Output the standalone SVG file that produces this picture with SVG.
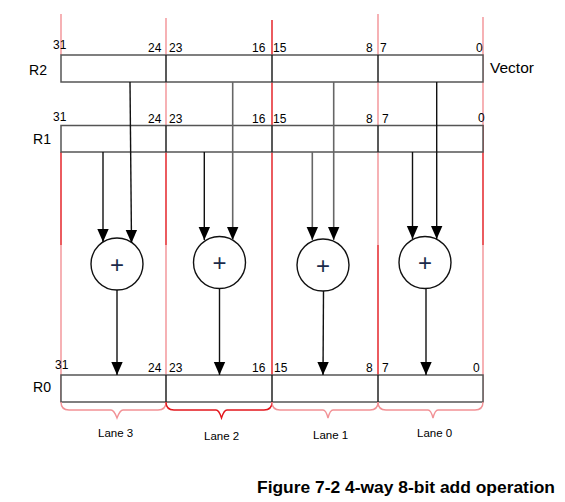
<svg xmlns="http://www.w3.org/2000/svg" width="565" height="502" viewBox="0 0 565 502">
<style>
.num{font-family:"Liberation Sans",Arial,sans-serif;font-size:12px;fill:#000}
.reg{font-family:"Liberation Sans",Arial,sans-serif;font-size:15.5px;fill:#000}
.lane{font-family:"Liberation Sans",Arial,sans-serif;font-size:11.5px;fill:#000}
.cap{font-family:"Liberation Sans",Arial,sans-serif;font-size:17px;font-weight:bold;fill:#000}
.plus{font-family:"Liberation Sans",Arial,sans-serif;font-size:24px;fill:#1a2a4a;text-anchor:middle}
.box{fill:#fff;stroke:#555;stroke-width:1.5}
.div{stroke:#222;stroke-width:1.5}
.red{stroke:#e3161c;stroke-width:1.4;fill:none}
.pink{stroke:#f29195;stroke-width:1.4;fill:none}
.add{fill:#fff;stroke:#111;stroke-width:1.4}
.wire{stroke:#111;stroke-width:1.4;fill:none}
.gwire{stroke:#666;stroke-width:1.6;fill:none}
</style>
<defs>
<marker id="tip" markerUnits="userSpaceOnUse" markerWidth="14" markerHeight="14" viewBox="0 0 14 14" refX="13" refY="7" orient="auto">
<path d="M0,1.3 L13,7 L0,12.7 Z" fill="#000"/>
</marker>
</defs>

<g id="lane-lines">
<line class="pink" x1="61" y1="14" x2="61" y2="55"/>
<line class="red" x1="61" y1="152" x2="61" y2="245"/>
<line class="pink" x1="61" y1="245" x2="61" y2="402"/>
<line class="pink" x1="166" y1="18" x2="166" y2="152"/>
<line class="red" x1="166" y1="152" x2="166" y2="245"/>
<line class="pink" x1="166" y1="245" x2="166" y2="402"/>
<line class="red" x1="272" y1="20" x2="272" y2="402"/>
<line class="pink" x1="378" y1="14" x2="378" y2="245"/>
<line class="red" x1="378" y1="245" x2="378" y2="402"/>
<line class="pink" x1="483" y1="17" x2="483" y2="125"/>
<line class="red" x1="483" y1="125" x2="483" y2="245"/>
<line class="pink" x1="483" y1="245" x2="483" y2="402"/>
</g>

<g id="R2">
<rect class="box" x="61" y="55" width="422" height="27"/>
<line class="div" x1="166" y1="55" x2="166" y2="82" stroke="#7a1010" stroke-width="2"/>
<line class="div" x1="272" y1="55" x2="272" y2="82"/>
<line class="div" x1="378" y1="55" x2="378" y2="82"/>
<text class="reg" x="29" y="75" textLength="18" lengthAdjust="spacingAndGlyphs">R2</text>
<text class="reg" x="490" y="73">Vector</text>
<text class="num" x="53" y="49">31</text>
<text class="num" x="148" y="52">24</text>
<text class="num" x="169" y="52">23</text>
<text class="num" x="252" y="52">16</text>
<text class="num" x="273" y="52">15</text>
<text class="num" x="366" y="52">8</text>
<text class="num" x="380" y="52">7</text>
<text class="num" x="476" y="52">0</text>
</g>

<g id="R1">
<rect class="box" x="61" y="125.5" width="422" height="26.5"/>
<line class="div" x1="166" y1="125.5" x2="166" y2="152" stroke="#7a1010" stroke-width="2"/>
<line class="div" x1="272" y1="125.5" x2="272" y2="152"/>
<line class="div" x1="378" y1="125.5" x2="378" y2="152" stroke-width="2"/>
<text class="reg" x="33" y="144" textLength="18" lengthAdjust="spacingAndGlyphs">R1</text>
<text class="num" x="53" y="121">31</text>
<text class="num" x="148" y="123">24</text>
<text class="num" x="169" y="123">23</text>
<text class="num" x="252" y="123">16</text>
<text class="num" x="273" y="123">15</text>
<text class="num" x="366" y="123">8</text>
<text class="num" x="382" y="123">7</text>
<text class="num" x="478" y="122">0</text>
</g>

<g id="R0">
<rect class="box" x="61" y="375" width="422" height="27"/>
<line class="div" x1="166" y1="375" x2="166" y2="402" stroke="#7a1010" stroke-width="2"/>
<line class="div" x1="272" y1="375" x2="272" y2="402"/>
<line class="div" x1="378" y1="375" x2="378" y2="402"/>
<text class="reg" x="33" y="392" textLength="18" lengthAdjust="spacingAndGlyphs">R0</text>
<text class="num" x="55" y="369">31</text>
<text class="num" x="148" y="372">24</text>
<text class="num" x="169" y="372">23</text>
<text class="num" x="252" y="372">16</text>
<text class="num" x="274" y="372">15</text>
<text class="num" x="366" y="372">8</text>
<text class="num" x="382" y="372">7</text>
<text class="num" x="473" y="372">0</text>
</g>

<g id="adder3">
<circle class="add" cx="117" cy="264" r="26"/>
<text class="plus" x="117" y="272.5">+</text>
</g>
<g id="adder2">
<circle class="add" cx="219.5" cy="262.5" r="26"/>
<text class="plus" x="219.5" y="271">+</text>
</g>
<g id="adder1">
<circle class="add" cx="323" cy="265" r="26"/>
<text class="plus" x="323" y="273.5">+</text>
</g>
<g id="adder0">
<circle class="add" cx="425" cy="262.5" r="26"/>
<text class="plus" x="425" y="271">+</text>
</g>

<g id="connectors">
<line class="wire" x1="103" y1="152" x2="103" y2="242" marker-end="url(#tip)"/>
<line class="wire" x1="130" y1="82" x2="131.5" y2="243" marker-end="url(#tip)"/>
<line class="wire" x1="204.3" y1="152" x2="204.3" y2="240" marker-end="url(#tip)"/>
<line class="gwire" x1="232.7" y1="82" x2="232.7" y2="240" marker-end="url(#tip)"/>
<line class="gwire" x1="312.3" y1="152" x2="312.3" y2="240" marker-end="url(#tip)"/>
<line class="gwire" x1="333.7" y1="82" x2="333.7" y2="240" marker-end="url(#tip)"/>
<line class="wire" x1="412.5" y1="152" x2="412.5" y2="239" marker-end="url(#tip)"/>
<line class="wire" x1="436.7" y1="82" x2="436.7" y2="239" marker-end="url(#tip)"/>
<line class="wire" x1="117" y1="290" x2="117" y2="375" marker-end="url(#tip)"/>
<line class="wire" x1="219.5" y1="288.5" x2="219.5" y2="375" marker-end="url(#tip)"/>
<line class="wire" x1="323.5" y1="291" x2="323" y2="375" marker-end="url(#tip)"/>
<line class="wire" x1="426" y1="288.5" x2="426" y2="375" marker-end="url(#tip)"/>
</g>

<g id="braces">
<path class="pink" d="M61,402 Q61,410 69,410 L111,410 Q114,410 117,418 Q120,410 123,410 L158,410 Q166,410 166,402"/>
<path class="red" d="M166,402 Q166,410 174,410 L216,410 Q219,410 221.5,418 Q224,410 227,410 L264,410 Q272,410 272,402"/>
<path class="pink" d="M272,402 Q272,410 280,410 L323,410 Q326,410 328,418 Q330,410 333,410 L370,410 Q378,410 378,402" stroke="#ec6e72"/>
<path class="pink" d="M378,402 Q378,410 386,410 L428,410 Q431,410 433,418 Q435,410 438,410 L475,410 Q483,410 483,402"/>
</g>

<g id="lane-labels">
<text class="lane" x="98" y="437">Lane 3</text>
<text class="lane" x="204" y="440">Lane 2</text>
<text class="lane" x="313" y="439">Lane 1</text>
<text class="lane" x="417" y="437">Lane 0</text>
</g>

<text class="cap" x="257" y="493" textLength="298" lengthAdjust="spacingAndGlyphs">Figure 7-2 4-way 8-bit add operation</text>
</svg>
